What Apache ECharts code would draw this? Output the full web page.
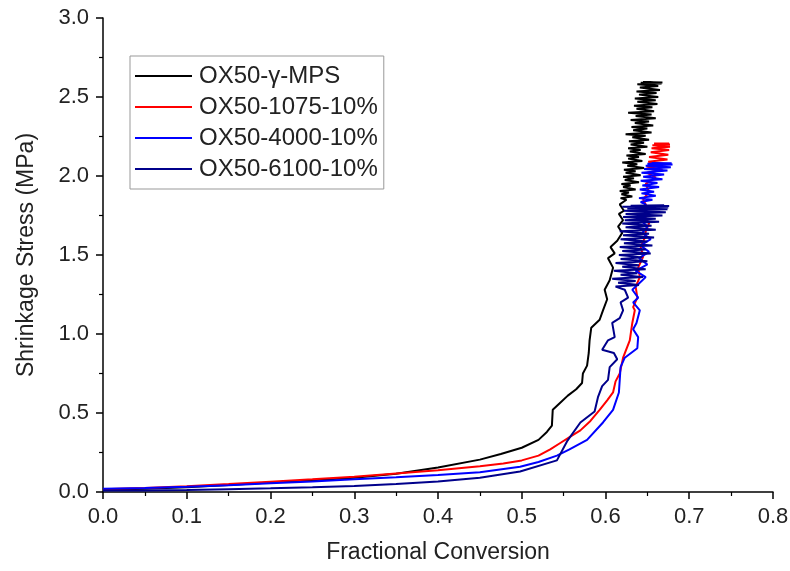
<!DOCTYPE html>
<html>
<head>
<meta charset="utf-8">
<script src="https://cdn.jsdelivr.net/npm/echarts@6/dist/echarts.min.js"></script>
<style>html,body{margin:0;padding:0;background:#fff}#c{width:790px;height:571px}</style>
</head>
<body>
<div id="c"></div>
<script>
var seriesNames = ['OX50-\u03b3-MPS', 'OX50-1075-10%', 'OX50-4000-10%', 'OX50-6100-10%'];
var xTicks = [0, 0.8, 0.1];
var yTicks = [0, 3.0, 0.5];

var blackMPS = [
[0,0.015],[0.05,0.02],[0.1,0.03],[0.15,0.045],[0.2,0.06],[0.25,0.075],[0.3,0.09],[0.35,0.115],[0.4,0.155],[0.45,0.205],
[0.475,0.24],[0.5,0.28],[0.52,0.33],[0.53,0.38],[0.536,0.42],[0.537,0.52],[0.545,0.56],[0.555,0.61],[0.565,0.65],[0.572,0.69],
[0.573,0.75],[0.578,0.8],[0.58,0.88],[0.581,0.96],[0.583,1.04],[0.593,1.09],[0.597,1.15],[0.602,1.22],[0.599,1.28],[0.605,1.34],
[0.609,1.42],[0.603,1.48],[0.611,1.51],[0.606,1.55],[0.614,1.59],[0.620,1.64],[0.615,1.68],[0.621,1.72],[0.616,1.76],[0.622,1.78],
[0.617,1.82],[0.625,1.85],[0.618,1.86],[0.632,1.87],[0.619,1.885],[0.628,1.895],[0.617,1.905],[0.636,1.915],[0.621,1.93],[0.63,1.94],
[0.619,1.95],[0.64,1.96],[0.623,1.975],[0.634,1.985],[0.621,1.995],[0.642,2.005],[0.624,2.02],[0.636,2.03],[0.622,2.04],[0.646,2.05],
[0.626,2.065],[0.638,2.075],[0.62,2.085],[0.644,2.095],[0.627,2.11],[0.64,2.12],[0.625,2.13],[0.648,2.14],[0.629,2.155],[0.642,2.165],
[0.627,2.175],[0.65,2.185],[0.63,2.2],[0.646,2.21],[0.628,2.22],[0.652,2.23],[0.632,2.245],[0.648,2.255],[0.624,2.265],[0.655,2.275],
[0.633,2.29],[0.65,2.3],[0.631,2.31],[0.657,2.32],[0.635,2.335],[0.652,2.345],[0.63,2.355],[0.66,2.365],[0.636,2.38],[0.655,2.39],
[0.627,2.4],[0.658,2.41],[0.637,2.425],[0.656,2.435],[0.634,2.445],[0.662,2.455],[0.638,2.47],[0.66,2.48],[0.635,2.49],[0.663,2.5],
[0.64,2.515],[0.661,2.525],[0.637,2.535],[0.665,2.545],[0.641,2.56],[0.663,2.57],[0.638,2.58],[0.667,2.585],[0.642,2.59],[0.668,2.592],
[0.645,2.595],[0.664,2.59]
];

var red1075 = [
[0,0.018],[0.05,0.026],[0.1,0.036],[0.15,0.05],[0.2,0.065],[0.25,0.08],[0.3,0.097],[0.35,0.117],[0.4,0.137],[0.45,0.163],
[0.478,0.18],[0.5,0.2],[0.52,0.23],[0.534,0.27],[0.546,0.31],[0.558,0.35],[0.57,0.39],[0.582,0.45],[0.593,0.52],[0.602,0.58],
[0.609,0.63],[0.612,0.7],[0.617,0.75],[0.621,0.85],[0.629,0.96],[0.632,1.07],[0.635,1.15],[0.633,1.17],[0.638,1.23],[0.636,1.30],
[0.641,1.36],[0.639,1.42],[0.645,1.49],[0.642,1.55],[0.647,1.61],[0.648,1.65],[0.652,1.7],[0.646,1.75],[0.65,1.8],[0.645,1.85],
[0.652,1.9],[0.648,1.95],[0.66,1.99],[0.65,2.02],[0.668,2.04],[0.649,2.06],[0.672,2.075],[0.651,2.09],[0.674,2.105],[0.652,2.12],
[0.675,2.135],[0.654,2.15],[0.676,2.165],[0.655,2.175],[0.677,2.185],[0.656,2.195],[0.677,2.2],[0.658,2.205],[0.676,2.205]
];

var blue4000 = [
[0,0.02],[0.05,0.025],[0.1,0.033],[0.15,0.043],[0.2,0.055],[0.25,0.067],[0.3,0.08],[0.35,0.093],[0.4,0.107],[0.45,0.125],
[0.498,0.16],[0.52,0.19],[0.542,0.23],[0.557,0.27],[0.578,0.33],[0.597,0.44],[0.609,0.52],[0.616,0.63],[0.617,0.71],[0.618,0.79],
[0.623,0.85],[0.638,0.91],[0.639,0.98],[0.633,1.03],[0.637,1.07],[0.641,1.15],[0.633,1.20],[0.639,1.23],[0.632,1.28],[0.64,1.32],
[0.648,1.36],[0.636,1.40],[0.65,1.44],[0.64,1.48],[0.652,1.52],[0.642,1.56],[0.654,1.6],[0.644,1.64],[0.65,1.68],[0.642,1.72],
[0.652,1.76],[0.645,1.80],[0.648,1.82],[0.642,1.835],[0.656,1.85],[0.64,1.86],[0.66,1.875],[0.643,1.89],[0.658,1.9],[0.641,1.915],
[0.664,1.93],[0.644,1.94],[0.662,1.955],[0.642,1.97],[0.668,1.98],[0.645,1.995],[0.67,2.01],[0.643,2.02],[0.674,2.035],[0.646,2.045],
[0.678,2.055],[0.648,2.065],[0.68,2.072],[0.65,2.078],[0.679,2.08],[0.655,2.082]
];

var navy6100 = [
[0,0.01],[0.05,0.01],[0.1,0.013],[0.15,0.018],[0.2,0.023],[0.25,0.03],[0.3,0.038],[0.35,0.05],[0.4,0.067],[0.45,0.09],
[0.498,0.13],[0.542,0.20],[0.554,0.32],[0.57,0.44],[0.587,0.51],[0.591,0.6],[0.596,0.67],[0.603,0.71],[0.605,0.79],[0.614,0.84],
[0.610,0.88],[0.596,0.90],[0.603,0.96],[0.611,0.98],[0.608,1.07],[0.617,1.10],[0.621,1.15],[0.618,1.2],[0.627,1.23],[0.623,1.28],
[0.612,1.30],[0.64,1.31],[0.615,1.325],[0.636,1.335],[0.608,1.35],[0.645,1.36],[0.618,1.375],[0.638,1.385],[0.61,1.40],[0.648,1.41],
[0.62,1.425],[0.64,1.435],[0.612,1.45],[0.65,1.46],[0.618,1.475],[0.644,1.485],[0.616,1.50],[0.654,1.51],[0.62,1.525],[0.648,1.535],
[0.617,1.55],[0.656,1.56],[0.622,1.575],[0.65,1.585],[0.618,1.60],[0.658,1.61],[0.621,1.625],[0.652,1.635],[0.617,1.65],[0.66,1.66],
[0.624,1.675],[0.655,1.685],[0.62,1.70],[0.664,1.71],[0.623,1.72],[0.66,1.73],[0.621,1.74],[0.668,1.75],[0.624,1.76],[0.672,1.77],
[0.622,1.78],[0.674,1.79],[0.626,1.795],[0.675,1.80],[0.62,1.805],[0.676,1.81],[0.63,1.812],[0.67,1.815]
];

var colors = ['#000000', '#ff0000', '#0000ff', '#00008b'];
var allData = [blackMPS, red1075, blue4000, navy6100];

var chart = echarts.init(document.getElementById('c'), null, {renderer: 'canvas'});
var font = 'Arial, "Liberation Sans", sans-serif';
var axisCommon = {
  axisLine: {show: true, onZero: false, lineStyle: {color: '#000', width: 1.5}},
  axisTick: {show: true, inside: false, length: 7, lineStyle: {color: '#000', width: 1.5}},
  minorTick: {show: true, splitNumber: 2, length: 4, lineStyle: {color: '#000', width: 1.2}},
  splitLine: {show: false},
  axisLabel: {color: '#222', fontSize: 22, fontFamily: font, margin: 14, hideOverlap: false, formatter: function (v) { return v.toFixed(1); }},
  nameTextStyle: {color: '#222', fontSize: 23, fontFamily: font}
};
chart.setOption({
  animation: false,
  backgroundColor: '#fff',
  color: colors,
  grid: {left: 103, right: 17, top: 18, bottom: 79, containLabel: false, outerBoundsMode: 'none'},
  legend: {
    orient: 'vertical', left: 130, top: 56,
    data: seriesNames,
    icon: 'rect', itemWidth: 57, itemHeight: 2, itemGap: 7,
    padding: [8, 6, 8, 5],
    borderColor: '#999', borderWidth: 1,
    textStyle: {color: '#222', fontSize: 24, fontFamily: font, padding: [0, 0, 0, 2]}
  },
  xAxis: Object.assign({}, axisCommon, {
    type: 'value', min: xTicks[0], max: xTicks[1], interval: xTicks[2],
    name: 'Fractional Conversion', nameLocation: 'middle', nameGap: 49
  }),
  yAxis: Object.assign({}, axisCommon, {
    type: 'value', min: yTicks[0], max: yTicks[1], interval: yTicks[2],
    name: 'Shrinkage Stress (MPa)', nameLocation: 'middle', nameGap: 65
  }),
  series: seriesNames.map(function (n, i) {
    return {
      name: n, type: 'line', data: allData[i], showSymbol: false, symbol: 'none',
      lineStyle: {width: 2, color: colors[i]}, itemStyle: {color: colors[i]},
      z: 2 + i
    };
  })
});
</script>
</body>
</html>
